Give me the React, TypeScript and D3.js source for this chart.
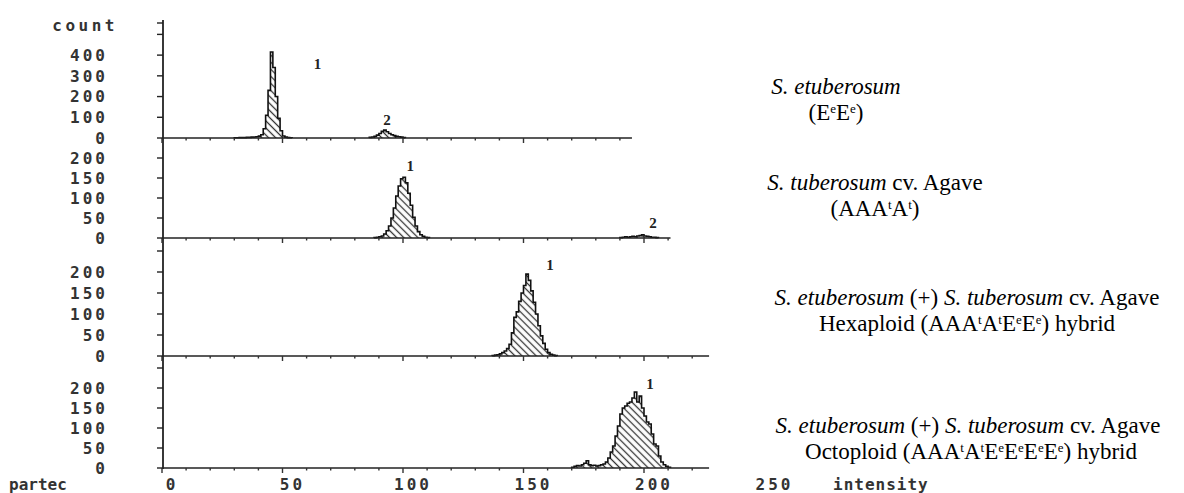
import * as d3 from "d3";

// intensity axis (channel units) and tick labels
const xTicks = [0, 50, 100, 150, 200, 250];
const xMinor = [0, 10, 20, 30, 40, 50, 60, 70, 80, 90, 100, 110, 120, 130, 140, 150, 160, 170, 180, 190, 200, 210, 220];

// S. etuberosum (EeEe): counts per channel, each run starts at the given channel
const etubPeak1Start = 30;
const etubPeak1 = [1, 1, 2, 2, 2, 3, 3, 4, 5, 6, 9, 16, 45, 110, 230, 415, 340, 200, 95, 35, 10, 4, 2, 1];
const etubPeak2Start = 86;
const etubPeak2 = [3, 5, 8, 14, 22, 32, 38, 30, 22, 16, 12, 8, 6, 4, 2];

// S. tuberosum cv. Agave (AAAtAt)
const agavePeak1Start = 88;
const agavePeak1 = [1, 2, 3, 5, 10, 18, 30, 50, 75, 105, 130, 148, 152, 138, 112, 82, 52, 30, 16, 8, 4, 2, 1];
const agavePeak2Start = 190;
const agavePeak2 = [1, 2, 3, 2, 3, 4, 3, 5, 6, 8, 5, 4, 3, 2, 2, 1];

// hexaploid hybrid
const hexaPeak1Start = 137;
const hexaPeak1 = [1, 2, 3, 5, 8, 12, 18, 28, 55, 92, 105, 130, 150, 168, 195, 180, 155, 128, 100, 72, 48, 30, 16, 8, 4, 2, 1];

// octoploid hybrid
const octoPeak1Start = 170;
const octoPeak1 = [
  2, 4, 6, 5, 8, 12, 18, 8, 6, 7, 5, 6, 8, 10, 15, 25, 40, 55, 80, 105, 135, 150, 155, 162, 165,
  175, 190, 165, 180, 150, 130, 115, 110, 85, 60, 55, 30, 15, 8, 4, 2,
];

const W = 1184;
const H = 493;
const xScale = d3.scaleLinear().domain([0, 250]).range([162, 764.5]);
const axisX = 163;

type Run = { start: number; counts: number[] };
type Panel = {
  runs: Run[];
  yMax: number;
  range: [number, number];
  xEnd: number;
  yTicks: number[];
  yLabels: number[];
  peaks: { t: string; x: number; y: number }[];
};

const panels: Panel[] = [
  {
    runs: [{ start: etubPeak1Start, counts: etubPeak1 }, { start: etubPeak2Start, counts: etubPeak2 }],
    yMax: 555, range: [138, 23], xEnd: 195,
    yTicks: [0, 100, 200, 300, 400, 500, 555], yLabels: [0, 100, 200, 300, 400],
    peaks: [{ t: "1", x: 64.5, y: 361 }, { t: "2", x: 93.4, y: 87 }],
  },
  {
    runs: [{ start: agavePeak1Start, counts: agavePeak1 }, { start: agavePeak2Start, counts: agavePeak2 }],
    yMax: 250, range: [238, 138], xEnd: 211,
    yTicks: [0, 50, 100, 150, 200], yLabels: [0, 50, 100, 150, 200],
    peaks: [{ t: "1", x: 103, y: 182 }, { t: "2", x: 203.7, y: 38 }],
  },
  {
    runs: [{ start: hexaPeak1Start, counts: hexaPeak1 }],
    yMax: 280, range: [356, 238.4], xEnd: 227,
    yTicks: [0, 50, 100, 150, 200, 250], yLabels: [0, 50, 100, 150, 200],
    peaks: [{ t: "1", x: 161, y: 217 }],
  },
  {
    runs: [{ start: octoPeak1Start, counts: octoPeak1 }],
    yMax: 280, range: [468, 356], xEnd: 227,
    yTicks: [0, 50, 100, 150, 200, 250], yLabels: [0, 50, 100, 150, 200],
    peaks: [{ t: "1", x: 202.5, y: 212 }],
  },
];

const monoFont = "'DejaVu Sans Mono', monospace";
const serif = "'Liberation Serif', 'Times New Roman', serif";

const Sup = ({ c }: { c: string }) => (
  <tspan baselineShift="super" fontSize={13}>{c}</tspan>
);

const HistPanel = ({ p }: { p: Panel }) => {
  const y = d3.scaleLinear().domain([0, p.yMax]).range(p.range);
  const area = d3
    .area<[number, number]>()
    .x((d) => xScale(d[0]))
    .y0(y(0))
    .y1((d) => y(d[1]))
    .curve(d3.curveStepAfter);
  const line = d3
    .line<[number, number]>()
    .x((d) => xScale(d[0]))
    .y((d) => y(d[1]))
    .curve(d3.curveStepAfter);
  const base = y(0);
  return (
    <g>
      {p.runs.map((r, j) => {
        const pts: [number, number][] = [[r.start, 0], ...r.counts.map((c, i) => [r.start + i, c] as [number, number])];
        pts.push([r.start + r.counts.length, 0]);
        return (
          <g key={j}>
            <path d={area(pts) || ""} fill="url(#hatch)" />
            <path d={line(pts) || ""} fill="none" stroke="#111" strokeWidth={1.6} />
          </g>
        );
      })}
      <line x1={axisX} x2={xScale(p.xEnd)} y1={base} y2={base} stroke="#222" strokeWidth={1.6} />
      {xMinor
        .filter((v) => v <= p.xEnd)
        .map((v) => (
          <line key={v} x1={xScale(v)} x2={xScale(v)} y1={base} y2={base + (v % 50 === 0 ? 5 : 2.5)} stroke="#333" strokeWidth={1.4} />
        ))}
      {p.yTicks.map((v) => (
        <line key={v} x1={axisX - 6} x2={axisX} y1={y(v)} y2={y(v)} stroke="#222" strokeWidth={1.4} />
      ))}
      {p.yLabels.map((v) => (
        <text key={v} x={108} y={y(v)} dy="0.36em" textAnchor="end" fontFamily={monoFont} fontWeight="bold" fontSize={16} letterSpacing={3} fill="#333">
          {v}
        </text>
      ))}
      {p.peaks.map((k) => (
        <text key={k.t} x={xScale(k.x)} y={y(k.y)} dy="0.36em" textAnchor="middle" fontFamily={serif} fontWeight="bold" fontSize={15} fill="#222">
          {k.t}
        </text>
      ))}
    </g>
  );
};

export default function App() {
  return (
    <svg width={W} height={H} style={{ position: "absolute", left: 0, top: 0, background: "#fff" }}>
      <defs>
        <pattern id="hatch" width={5} height={5} patternUnits="userSpaceOnUse" patternTransform="rotate(45)">
          <line x1={0} y1={2.5} x2={5} y2={2.5} stroke="#333" strokeWidth={1.3} />
        </pattern>
      </defs>
      <line x1={axisX} x2={axisX} y1={20} y2={469} stroke="#222" strokeWidth={1.8} />
      {panels.map((p, i) => (
        <HistPanel key={i} p={p} />
      ))}
      {xTicks.map((v) => (
        <text key={v} x={xScale(v) + 10} y={484} dy="0.36em" textAnchor="middle" fontFamily={monoFont} fontWeight="bold" fontSize={16} letterSpacing={3} fill="#333">
          {v}
        </text>
      ))}
      <text x={118} y={25} dy="0.36em" textAnchor="end" fontFamily={monoFont} fontWeight="bold" fontSize={16} letterSpacing={3.5} fill="#333">count</text>
      <text x={9} y={484} dy="0.36em" fontFamily={monoFont} fontWeight="bold" fontSize={16} letterSpacing={0} fill="#333">partec</text>
      <text x={833} y={484} dy="0.36em" fontFamily={monoFont} fontWeight="bold" fontSize={16} letterSpacing={1} fill="#333">intensity</text>

      <g fontFamily={serif} fontSize={23} fill="#000" textAnchor="middle">
        <text x={836} y={94}><tspan fontStyle="italic">S. etuberosum</tspan></text>
        <text x={836} y={120}>(E<Sup c="e" />E<Sup c="e" />)</text>
        <text x={875} y={190}><tspan fontStyle="italic">S. tuberosum</tspan> cv. Agave</text>
        <text x={875} y={216}>(AAA<Sup c="t" />A<Sup c="t" />)</text>
        <text x={967} y={305}><tspan fontStyle="italic">S. etuberosum</tspan> (+) <tspan fontStyle="italic">S. tuberosum</tspan> cv. Agave</text>
        <text x={967} y={331}>Hexaploid (AAA<Sup c="t" />A<Sup c="t" />E<Sup c="e" />E<Sup c="e" />) hybrid</text>
        <text x={968} y={433}><tspan fontStyle="italic">S. etuberosum</tspan> (+) <tspan fontStyle="italic">S. tuberosum</tspan> cv. Agave</text>
        <text x={971} y={459}>Octoploid (AAA<Sup c="t" />A<Sup c="t" />E<Sup c="e" />E<Sup c="e" />E<Sup c="e" />E<Sup c="e" />) hybrid</text>
      </g>
    </svg>
  );
}
